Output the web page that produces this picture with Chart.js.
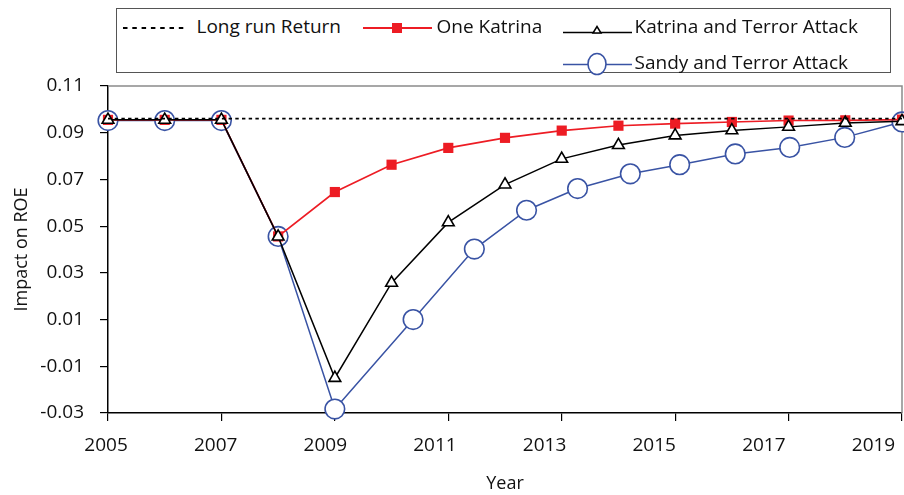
<!DOCTYPE html>
<html>
<head>
<meta charset="utf-8">
<script src="https://cdn.jsdelivr.net/npm/chart.js@4"></script>
<style>
  body { margin: 0; background: #fff; }
  #wrap { position: relative; width: 904px; height: 495px; font-family: 'Open Sans', sans-serif; color: #111; }
  #chart { position: absolute; left: 0; top: 0; }
  .legend { position: absolute; left: 116px; top: 8px; width: 775px; height: 65px; border: 1.5px solid #555; background: #fff; box-sizing: border-box; }
  .legend svg { position: absolute; left: -117.5px; top: -9.5px; }
  .lg-text { position: absolute; font-size: 19px; line-height: 19px; white-space: nowrap; }
</style>
</head>
<body>
<div id="wrap">
  <canvas id="chart" width="904" height="495"></canvas>
  <div class="legend">
    <svg width="904" height="80">
      <line x1="123" y1="28" x2="188" y2="28" stroke="#000" stroke-width="2" stroke-dasharray="4.5 4.8"/>
      <line x1="363" y1="28" x2="432" y2="28" stroke="#ed1c24" stroke-width="2"/>
      <rect x="392" y="23" width="10" height="10" fill="#ed1c24"/>
      <line x1="563" y1="32.5" x2="632" y2="32.5" stroke="#000" stroke-width="1.6"/>
      <polygon points="593,33 601,33 597,26.5" fill="#fff" stroke="#000" stroke-width="1.5"/>
      <line x1="563" y1="64.5" x2="632" y2="64.5" stroke="#3953a4" stroke-width="1.6"/>
      <ellipse cx="597" cy="64" rx="9" ry="10.5" fill="#fff" stroke="#3953a4" stroke-width="1.6"/>
    </svg>
    <span class="lg-text" style="left:79.5px; top:7.5px;">Long run Return</span>
    <span class="lg-text" style="left:319.5px; top:7.5px;">One Katrina</span>
    <span class="lg-text" style="left:517.5px; top:7.5px;">Katrina and Terror Attack</span>
    <span class="lg-text" style="left:517.5px; top:44px;">Sandy and Terror Attack</span>
  </div>
</div>
<script>
// ---- data ----
const years = [2005, 2006, 2007, 2008, 2009, 2010, 2011, 2012, 2013, 2014, 2015, 2016, 2017, 2018, 2019];
const oneKatrina = [0.0955, 0.0955, 0.0955, 0.0456, 0.0646, 0.0763, 0.0835, 0.0878, 0.0909, 0.0930, 0.0939, 0.0946, 0.0952, 0.0953, 0.0956];
const katrinaTerror = [0.0955, 0.0955, 0.0955, 0.0455, -0.0150, 0.0257, 0.0516, 0.0678, 0.0788, 0.0847, 0.0888, 0.0910, 0.0925, 0.0942, 0.0949];
const sandyYears = [2005, 2006, 2007, 2008, 2009, 2010.38, 2011.46, 2012.38, 2013.28, 2014.21, 2015.08, 2016.06, 2017.02, 2017.99, 2019];
const sandyTerror = [0.0952, 0.0952, 0.0952, 0.0456, -0.0283, 0.0100, 0.0402, 0.0568, 0.0661, 0.0724, 0.0763, 0.0809, 0.0837, 0.0880, 0.0946];
const longRunYears = [2005, 2019];
const longRun = [0.096, 0.096];

const xTicks = [2005, 2007, 2009, 2011, 2013, 2015, 2017, 2019];
const yTicks = [-0.03, -0.01, 0.01, 0.03, 0.05, 0.07, 0.09, 0.11];

const pts = (xs, ys) => xs.map((x, i) => ({ x: x, y: ys[i] }));

Chart.defaults.font.family = "'Open Sans', sans-serif";
Chart.defaults.font.size = 19;
Chart.defaults.color = '#111';

// gray frame on top and right of the plot area
const plotFrame = {
    id: 'plotFrame',
    beforeDatasetsDraw(chart) {
        const { ctx, chartArea: a } = chart;
        ctx.save();
        ctx.strokeStyle = '#8a8a8a';
        ctx.lineWidth = 1.5;
        ctx.beginPath();
        ctx.moveTo(a.left, a.top);
        ctx.lineTo(a.right, a.top);
        ctx.lineTo(a.right, a.bottom);
        ctx.stroke();
        ctx.restore();
    }
};

// no label overflow padding, the plot box is fixed by the layout padding
const noOverflow = s => { s.paddingLeft = 0; s.paddingRight = 0; s.paddingTop = 0; s.paddingBottom = 0; };

new Chart(document.getElementById('chart').getContext('2d'), {
    type: 'line',
    data: {
        datasets: [
            {
                label: 'Long run Return',
                data: pts(longRunYears, longRun),
                borderColor: '#000', borderWidth: 1.8, borderDash: [3.4, 3.3],
                pointRadius: 0, order: 1
            },
            {
                label: 'One Katrina',
                data: pts(years, oneKatrina),
                borderColor: '#ed1c24', borderWidth: 1.6,
                pointStyle: 'rect', pointRadius: 7.2,
                pointBackgroundColor: '#ed1c24', pointBorderColor: '#ed1c24', pointBorderWidth: 0,
                order: 3
            },
            {
                label: 'Katrina and Terror Attack',
                data: pts(years, katrinaTerror),
                borderColor: '#000', borderWidth: 1.5,
                pointStyle: 'triangle', pointRadius: 6.8,
                pointBackgroundColor: '#fff', pointBorderColor: '#000', pointBorderWidth: 1.6,
                order: 2
            },
            {
                label: 'Sandy and Terror Attack',
                data: pts(sandyYears, sandyTerror),
                borderColor: '#3953a4', borderWidth: 1.5,
                pointStyle: 'circle', pointRadius: 9.8,
                pointBackgroundColor: '#fff', pointBorderColor: '#3953a4', pointBorderWidth: 1.6,
                order: 4
            }
        ]
    },
    options: {
        responsive: false,
        animation: false,
        clip: false,
        layout: { autoPadding: false, padding: { top: 86, right: 2, bottom: 0, left: 0 } },
        plugins: { legend: { display: false }, tooltip: { enabled: false } },
        elements: { line: { tension: 0 } },
        scales: {
            x: {
                type: 'linear', position: 'bottom', weight: 0,
                min: 2005, max: 2019,
                afterBuildTicks: s => { s.ticks = xTicks.map(v => ({ value: v })); },
                afterFit: s => { s.height = 8; noOverflow(s); },
                ticks: { display: false },
                grid: { drawOnChartArea: false, color: '#000', lineWidth: 1.2, tickLength: 8 },
                border: { color: '#000', width: 1.5 }
            },
            // label row, its own range so the year labels sit where the source put them
            xl: {
                type: 'linear', position: 'bottom', weight: 1,
                min: 2005.036, max: 2019.52,
                afterBuildTicks: s => { s.ticks = xTicks.map(v => ({ value: v })); },
                afterFit: s => { s.height = 74; noOverflow(s); },
                ticks: { padding: 13, maxRotation: 0, autoSkip: false, callback: v => String(v) },
                grid: { display: false, drawTicks: false },
                border: { display: false },
                title: { display: true, text: 'Year', font: { size: 18 }, padding: 0 }
            },
            y: {
                type: 'linear', min: -0.03, max: 0.11,
                afterBuildTicks: s => { s.ticks = yTicks.map(v => ({ value: v })); },
                afterFit: s => { s.width = 108; noOverflow(s); },
                ticks: { padding: 16, callback: v => String(Number(v.toFixed(2))) },
                grid: { drawOnChartArea: false, color: '#000', lineWidth: 1.2, tickLength: 8 },
                border: { color: '#000', width: 1.5 },
                title: { display: true, text: 'Impact on ROE', font: { size: 18 }, padding: { top: 11, bottom: 0 } }
            }
        }
    },
    plugins: [plotFrame]
});
</script>
</body>
</html>
